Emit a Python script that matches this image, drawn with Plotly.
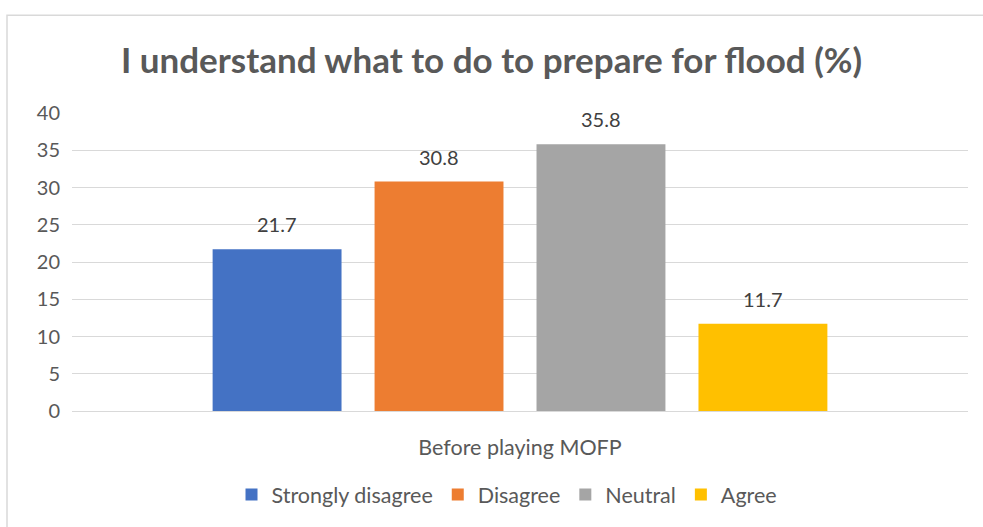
import plotly.graph_objects as go

categories = ["Before playing MOFP"]
series_names = ["Strongly disagree", "Disagree", "Neutral", "Agree"]
series_values = [[21.7], [30.8], [35.8], [11.7]]
colors = ["#4472C4", "#ED7D31", "#A5A5A5", "#FFC000"]
y_ticks = [0, 5, 10, 15, 20, 25, 30, 35, 40]

FONT = "Lato"
fig = go.Figure()
for name, vals, c in zip(series_names, series_values, colors):
    fig.add_trace(go.Bar(name=name, x=categories, y=vals, marker_color=c,
                         marker_line_width=0))

slot = 162
for i, vals in enumerate(series_values):
    for cat, v in zip(categories, vals):
        fig.add_annotation(x=cat, y=v, xref="x", yref="y", text=f"{v:.1f}",
                           showarrow=False, yanchor="middle", yshift=25,
                           xshift=(i - 1.5) * slot,
                           font=dict(family=FONT, size=20, color="#404040"))

fig.update_layout(
    width=983, height=527,
    margin=dict(l=72, r=15, t=113, b=114),
    paper_bgcolor="white", plot_bgcolor="white",
    barmode="group", bargap=0.277, bargroupgap=0.204,
    title=dict(text="<b>I understand what to do to prepare for flood (%)</b>",
               x=0.5, xanchor="center", y=0.885, yanchor="middle",
               font=dict(family=FONT, size=35, color="#595959")),
    yaxis=dict(range=[0, 40], tickvals=y_ticks, showgrid=True,
               gridcolor="#D9D9D9", gridwidth=1, zeroline=False,
               showline=False, ticks="", ticklabelstandoff=11,
               tickfont=dict(family=FONT, size=20, color="#595959")),
    xaxis=dict(showline=True, linecolor="#D9D9D9", linewidth=1, ticks="",
               ticklabelstandoff=17,
               tickfont=dict(family=FONT, size=21.5, color="#595959")),
    legend=dict(orientation="h", x=0.4855, xanchor="center", y=-0.28,
                yanchor="middle", font=dict(family=FONT, size=21.5, color="#595959"),
                itemwidth=30, traceorder="normal"),
    shapes=[dict(type="rect", xref="paper", yref="paper",
                 x0=(7 - 72) / 896, x1=(995 - 72) / 896,
                 y0=(413 - 540) / 300, y1=1 + (113 - 14.5) / 300,
                 line=dict(color="#D9D9D9", width=1.5), fillcolor="rgba(0,0,0,0)",
                 layer="below")],
)
fig.write_html("out.html", config={"displayModeBar": False},
               post_script="document.body.style.margin='0';")
